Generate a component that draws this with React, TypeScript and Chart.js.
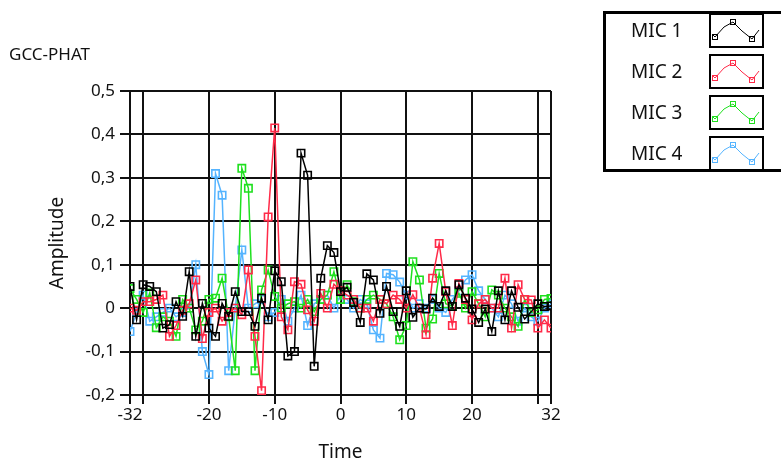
import React, { useEffect, useRef } from "react";
import { Chart, registerables } from "chart.js";

Chart.register(...registerables);

const timeValues: number[] = [
  -32, -31, -30, -29, -28, -27, -26, -25, -24, -23, -22, -21, -20, -19, -18, -17,
  -16, -15, -14, -13, -12, -11, -10, -9, -8, -7, -6, -5, -4, -3, -2, -1,
  0, 1, 2, 3, 4, 5, 6, 7, 8, 9, 10, 11, 12, 13, 14, 15, 16,
  17, 18, 19, 20, 21, 22, 23, 24, 25, 26, 27, 28, 29, 30, 31, 32,
];

const mic1: number[] = [
  0.05, -0.027, 0.054, 0.05, 0.038, -0.046, -0.038, 0.015, -0.019, 0.084, -0.065, 0.011, -0.046, -0.065, 0.011, -0.019,
  0.038, -0.008, -0.008, -0.042, 0.023, -0.027, 0.086, 0.061, -0.11, -0.1, 0.357, 0.306, -0.134, 0.069, 0.144, 0.128,
  0.038, 0.048, 0.013, -0.033, 0.079, 0.065, -0.012, 0.05, -0.008, -0.042, 0.04, -0.021, 0.0, -0.002, 0.023, 0.004, 0.04,
  0.004, 0.054, 0.023, -0.002, -0.033, -0.002, -0.054, 0.04, -0.027, 0.04, 0.002, -0.025, -0.008, 0.01, 0.004, 0.005,
];

const mic2: number[] = [
  0.0, -0.005, 0.015, 0.015, 0.02, 0.03, -0.065, -0.04, -0.005, 0.01, 0.065, -0.07, -0.01, 0.0, -0.03, -0.01,
  0.0, -0.015, 0.088, -0.065, -0.19, 0.21, 0.415, -0.02, -0.05, 0.061, 0.055, -0.004, -0.03, 0.034, 0.0, 0.055,
  0.04, 0.03, 0.02, 0.0, 0.0, -0.03, 0.02, 0.01, 0.03, 0.02, 0.0, 0.031, 0.0, -0.061, 0.069, 0.149, 0.038,
  -0.04, 0.057, 0.02, -0.027, 0.01, 0.02, 0.0, 0.0, 0.069, -0.046, 0.054, 0.02, 0.019, -0.046, -0.027, -0.046,
];

const mic3: number[] = [
  0.045, 0.02, -0.01, 0.035, -0.045, -0.02, -0.03, -0.065, 0.02, 0.0, -0.05, -0.03, 0.02, 0.023, 0.069, -0.02,
  -0.144, 0.322, 0.276, -0.144, 0.042, 0.088, 0.027, 0.0, 0.01, 0.015, 0.0, 0.02, -0.008, 0.02, 0.03, 0.084,
  0.02, 0.054, 0.015, 0.0, 0.02, 0.03, 0.02, 0.01, -0.02, -0.073, -0.04, 0.107, 0.065, -0.046, -0.025, 0.08, 0.01,
  0.004, 0.034, 0.0, 0.038, 0.01, -0.02, 0.042, 0.03, 0.0, -0.02, -0.042, 0.02, -0.01, -0.004, 0.02, 0.022,
];

const mic4: number[] = [
  -0.054, -0.01, 0.03, -0.03, -0.02, -0.01, 0.0, -0.02, -0.01, 0.0, 0.1, -0.1, -0.153, 0.31, 0.26, -0.144,
  0.0, 0.134, 0.0, 0.01, 0.02, -0.02, -0.01, 0.02, -0.03, 0.0, 0.03, -0.04, 0.01, 0.02, 0.03, 0.0,
  0.03, 0.02, 0.0, 0.02, 0.01, -0.05, -0.069, 0.08, 0.077, 0.06, 0.03, 0.0, 0.01, 0.0, 0.02, 0.0, -0.01,
  0.02, 0.04, 0.065, 0.077, 0.04, 0.02, 0.0, -0.02, 0.03, 0.01, -0.03, 0.0, -0.02, -0.03, 0.0, 0.01,
];

const seriesNames: string[] = ["MIC 1", "MIC 2", "MIC 3", "MIC 4"];
const seriesColors: string[] = ["#000000", "#ff2a48", "#1ee01e", "#55b4ff"];
const seriesValues: number[][] = [mic1, mic2, mic3, mic4];

const xTickValues: number[] = [-32, -30, -20, -10, 0, 10, 20, 30, 32];
const xHiddenLabels: number[] = [-30, 30];

const FONT = "'Noto Sans', 'Open Sans', sans-serif";

const overlayPlugin = {
  id: "overlay",
  afterDraw(chart: any) {
    const ctx = chart.ctx as CanvasRenderingContext2D;
    ctx.save();
    // title
    ctx.fillStyle = "#111";
    ctx.font = `17px ${FONT}`;
    ctx.textBaseline = "middle";
    ctx.textAlign = "left";
    ctx.fillText("GCC-PHAT", 9, 55);

    // legend box
    ctx.strokeStyle = "#000";
    ctx.lineWidth = 3;
    ctx.strokeRect(604.5, 12.5, 190, 158);
    for (let i = 0; i < seriesNames.length; i++) {
      const top = 14 + 41 * i;
      ctx.fillStyle = "#111";
      ctx.font = `19px ${FONT}`;
      ctx.textAlign = "left";
      ctx.textBaseline = "middle";
      ctx.fillText(seriesNames[i], 631, top + 18);
      ctx.lineWidth = 2;
      ctx.strokeStyle = "#000";
      ctx.strokeRect(710, top, 53, 33);
      // swatch sample
      const c = seriesColors[i];
      ctx.strokeStyle = c;
      ctx.lineWidth = 1;
      const pts = [
        [712, top + 20],
        [715, top + 23],
        [724, top + 13],
        [733, top + 8],
        [742, top + 17],
        [752, top + 25],
        [759, top + 16],
      ];
      ctx.beginPath();
      pts.forEach((p, k) => (k === 0 ? ctx.moveTo(p[0], p[1]) : ctx.lineTo(p[0], p[1])));
      ctx.stroke();
      ctx.lineWidth = 1;
      [[715, top + 23], [733, top + 8], [752, top + 25]].forEach((p) => {
        ctx.strokeRect(p[0] - 2.5, p[1] - 2.5, 5, 5);
      });
    }
    ctx.restore();
  },
};

export default function App() {
  const ref = useRef<HTMLCanvasElement | null>(null);
  useEffect(() => {
    if (!ref.current) return;
    const datasets = seriesValues.map((vals, i) => ({
      label: seriesNames[i],
      data: vals.map((v, k) => ({ x: timeValues[k], y: v })),
      borderColor: seriesColors[i],
      backgroundColor: "transparent",
      borderWidth: 1.5,
      pointStyle: "rect" as const,
      pointRadius: 5.2,
      pointBorderWidth: 1.6,
      pointBorderColor: seriesColors[i],
      pointBackgroundColor: "rgba(0,0,0,0)",
      tension: 0,
    }));
    const chart = new Chart(ref.current, {
      type: "line",
      data: { datasets },
      plugins: [overlayPlugin],
      options: {
        animation: false,
        responsive: false,
        events: [],
        layout: { padding: { left: 0, top: 91, right: 230, bottom: 0 } },
        plugins: { legend: { display: false }, tooltip: { enabled: false }, title: { display: false } },
        scales: {
          x: {
            type: "linear",
            min: -32,
            max: 32,
            afterBuildTicks: (scale: any) => {
              scale.ticks = xTickValues.map((v) => ({ value: v }));
            },
            afterFit: (scale: any) => {
              scale.height = 69;
            },
            ticks: {
              autoSkip: false,
              maxRotation: 0,
              color: "#111",
              font: { family: FONT, size: 17 },
              padding: 1,
              callback: (v: any) => (xHiddenLabels.includes(Number(v)) ? "" : String(v)),
            },
            grid: { color: "#111", lineWidth: 2, tickLength: 9, tickWidth: 2, tickColor: "#111" },
            border: { display: true, color: "#111", width: 2 },
            title: { display: true, text: "Time", color: "#111", font: { family: FONT, size: 19 }, padding: { top: 0, bottom: 0 } },
          },
          y: {
            type: "linear",
            min: -0.2,
            max: 0.5,
            afterFit: (scale: any) => {
              scale.width = 130;
            },
            ticks: {
              stepSize: 0.1,
              color: "#111",
              font: { family: FONT, size: 17 },
              padding: 5,
              callback: (v: any) => {
                const r = Math.round(Number(v) * 10) / 10;
                return r === 0 ? "0" : String(r).replace(".", ",");
              },
            },
            grid: { color: "#111", lineWidth: 2, tickLength: 10, tickWidth: 2, tickColor: "#111" },
            border: { display: true, color: "#111", width: 2 },
            title: { display: true, text: "Amplitude", color: "#111", font: { family: FONT, size: 19 }, padding: { top: 46, bottom: 0 } },
          },
        },
      },
    });
    return () => chart.destroy();
  }, []);
  return (
    <div style={{ position: "absolute", left: 0, top: 0, width: 781, height: 464, background: "#fff" }}>
      <canvas ref={ref} width={781} height={464} style={{ width: 781, height: 464, display: "block" }} />
    </div>
  );
}
